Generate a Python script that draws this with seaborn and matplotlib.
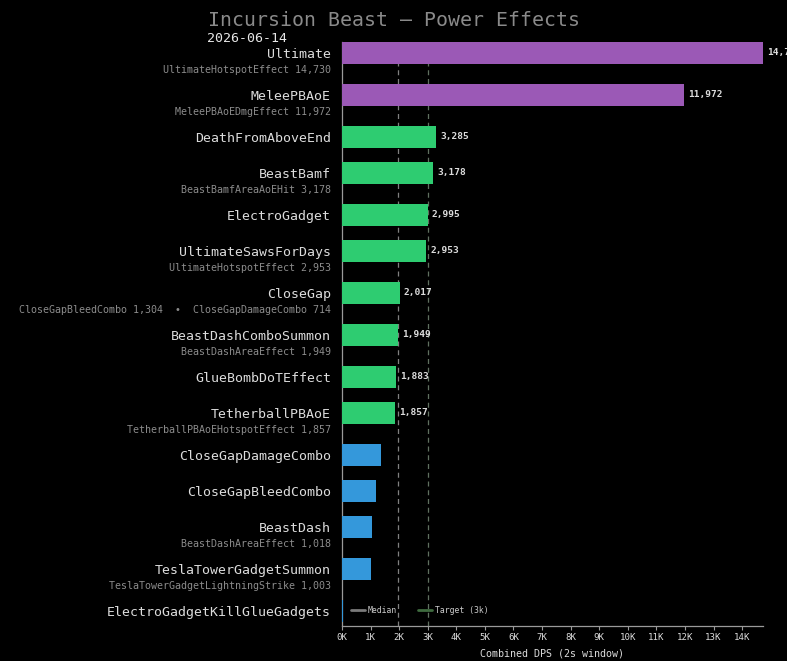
import matplotlib
matplotlib.use('Agg')
import matplotlib.pyplot as plt
from matplotlib.lines import Line2D
import seaborn as sns
import pandas as pd
import numpy as np

# chart data
powers = ['Ultimate', 'MeleePBAoE', 'DeathFromAboveEnd', 'BeastBamf', 'ElectroGadget',
          'UltimateSawsForDays', 'CloseGap', 'BeastDashComboSummon', 'GlueBombDoTEffect',
          'TetherballPBAoE', 'CloseGapDamageCombo', 'CloseGapBleedCombo', 'BeastDash',
          'TeslaTowerGadgetSummon', 'ElectroGadgetKillGlueGadgets']
dps = [14730, 11972, 3285, 3178, 2995, 2953, 2017, 1949, 1883, 1857, 1360, 1184, 1044, 1009, 40]
tiers = ['high', 'high', 'mid', 'mid', 'mid', 'mid', 'mid', 'mid', 'mid', 'mid',
         'low', 'low', 'low', 'low', 'low']
subtitles = ['UltimateHotspotEffect 14,730', 'MeleePBAoEDmgEffect 11,972', '',
             'BeastBamfAreaAoEHit 3,178', '', 'UltimateHotspotEffect 2,953',
             'CloseGapBleedCombo 1,304  \u2022  CloseGapDamageCombo 714',
             'BeastDashAreaEffect 1,949', '', 'TetherballPBAoEHotspotEffect 1,857', '', '',
             'BeastDashAreaEffect 1,018', 'TeslaTowerGadgetLightningStrike 1,003', '']
labelled = [True] * 10 + [False] * 5
median_dps = 1949
target_dps = 3000

tier_colors = {'high': '#9b59b6', 'mid': '#2ecc71', 'low': '#3498db'}
text_light = '#dcdcdc'
text_dim = '#8c8c8c'

# rows with a subtitle line take a little more room
pos = [0.0]
for s in subtitles[:-1]:
    pos.append(pos[-1] + (42 / 36 if s else 1.0))

df = pd.DataFrame({'power': powers, 'dps': dps, 'tier': tiers, 'pos': pos})

sns.set_theme(style='dark', rc={'figure.facecolor': 'black', 'axes.facecolor': 'black'})
plt.rcParams['font.family'] = ['DejaVu Sans Mono', 'DejaVu Sans']

fig = plt.figure(figsize=(7.87, 6.61), dpi=100)
ax = fig.add_axes([342 / 787, 1 - 626 / 661, 421 / 787, 584 / 661])

sns.barplot(data=df, x='dps', y='pos', hue='tier', palette=tier_colors, orient='y',
            native_scale=True, width=22 / 36, errorbar=None, saturation=1,
            legend=False, linewidth=0, edgecolor='none', ax=ax)
# bars sit over the left spine, as in the original
for bar in ax.patches:
    bar.set_zorder(3)

ax.set_xlim(0, 14730)
ax.set_ylim(573 / 36, -11 / 36)

ax.axvline(median_dps, color='#808080', lw=0.9, ls=(0, (4, 3)), zorder=0.5)
ax.axvline(target_dps, color='#607060', lw=0.9, ls=(0, (4, 3)), zorder=0.5)

# y labels: power name plus the effects that feed it
ax.set_yticks(pos)
ax.set_yticklabels(powers, fontsize=9.5, color=text_light)
ax.tick_params(axis='y', length=0, pad=8)
for p, s in zip(pos, subtitles):
    if s:
        ax.annotate(s, xy=(0, p), xycoords=('axes fraction', 'data'),
                    xytext=(-8, -12.3), textcoords='offset points',
                    ha='right', va='center', fontsize=7.2, color=text_dim,
                    annotation_clip=False)

# value labels
for p, v, show in zip(pos, dps, labelled):
    if show:
        ax.annotate(f'{v:,}', xy=(v, p), xytext=(3, 0), textcoords='offset points',
                    ha='left', va='center', fontsize=6.8, fontweight='bold',
                    color=text_light, annotation_clip=False, zorder=4)

ticks = np.arange(0, 15000, 1000)
ax.set_xticks(ticks)
ax.set_xticklabels([f'{t // 1000}K' for t in ticks], fontsize=6.6, color=text_light)
ax.tick_params(axis='x', length=3, width=0.8, color='#999999', pad=2, bottom=True)
ax.set_xlabel('Combined DPS (2s window)', fontsize=7.2, color=text_light, labelpad=5)
ax.set_ylabel('')

for side in ['top', 'right']:
    ax.spines[side].set_visible(False)
for side in ['left', 'bottom']:
    ax.spines[side].set_visible(True)
    ax.spines[side].set_color('#9a9a9a')
    ax.spines[side].set_linewidth(0.9)
ax.grid(False)

handles = [Line2D([], [], color='#7a7a7a', lw=2, label='Median'),
           Line2D([], [], color='#3f6b3f', lw=2, label='Target (3k)')]
leg = ax.legend(handles=handles, loc='lower left', bbox_to_anchor=(0.005, 0.006),
                ncol=2, frameon=False, fontsize=5.9, handlelength=1.6,
                handletextpad=0.4, columnspacing=2.6, labelcolor='#cccccc')

fig.text(0.5, 1 - 20 / 661, 'Incursion Beast \u2014 Power Effects', ha='center', va='center',
         fontsize=14.3, color='#8a8a8a')
fig.text(207 / 787, 1 - 38 / 661, '2026-06-14', ha='left', va='center',
         fontsize=9.5, color='#e6e6e6')

fig.savefig('out.png', dpi=100, facecolor='black')
